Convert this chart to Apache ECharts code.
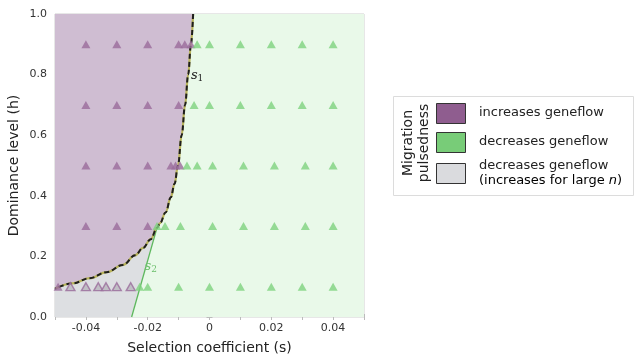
<!DOCTYPE html>
<html><head><meta charset="utf-8">
<script src="https://cdn.jsdelivr.net/npm/echarts@6/dist/echarts.min.js"></script>
<style>html,body{margin:0;padding:0;background:#fff}#c{width:635px;height:360px}</style>
</head><body><div id="c"></div>
<script>
// ---- data ----
const xTickLabels = [-0.04, -0.02, 0, 0.02, 0.04];
const yTickLabels = [0.0, 0.2, 0.4, 0.6, 0.8, 1.0];
// rows of simulated points: dominance level h, selection coefficients s
const rowH = [0.9, 0.7, 0.5, 0.3, 0.1];
const purpleS = [
  [-0.04, -0.03, -0.02, -0.01, -0.008, -0.006],
  [-0.04, -0.03, -0.02, -0.01],
  [-0.04, -0.03, -0.02, -0.0125, -0.011, -0.0095],
  [-0.04, -0.03, -0.02],
  [-0.049]
];
const greenS = [
  [-0.004, 0, 0.01, 0.02, 0.03, 0.04],
  [-0.005, 0, 0.01, 0.02, 0.03, 0.04],
  [-0.0073, -0.004, 0.001, 0.011, 0.021, 0.031, 0.04],
  [-0.017, -0.0144, -0.0094, 0.001, 0.011, 0.021, 0.031, 0.04],
  [-0.0226, -0.02, -0.01, 0, 0.01, 0.02, 0.03, 0.04]
];
const greyS = [[], [], [], [], [-0.045, -0.04, -0.036, -0.0335, -0.03, -0.0255]];
// boundary s1 (s, h), from top to left edge
const s1Curve = [
  [-0.0053, 1.0], [-0.0060, 0.9], [-0.0069, 0.8], [-0.0079, 0.7], [-0.0090, 0.6],
  [-0.0102, 0.5], [-0.0113, 0.44], [-0.0125, 0.395], [-0.0142, 0.345], [-0.0160, 0.31],
  [-0.0170, 0.294], [-0.0190, 0.257], [-0.0215, 0.228], [-0.0240, 0.204], [-0.0280, 0.172],
  [-0.0333, 0.148], [-0.0388, 0.128], [-0.0443, 0.111], [-0.0500, 0.093]
];
// boundary s2 (s, h)
const s2Line = [[-0.0170, 0.294], [-0.0252, 0.0]];
const s1LabelPos = [-0.0040, 0.795];
const s2LabelPos = [-0.0190, 0.165];
const xRange = [-0.05, 0.05];
const yRange = [0, 1];

// ---- build ----
function pts(sets, rows) {
  const out = [];
  sets.forEach((arr, i) => arr.forEach(s => out.push([s, rows[i]])));
  return out;
}
const purplePts = pts(purpleS, rowH);
const greenPts = pts(greenS, rowH);
const greyPts = pts(greyS, rowH);

const bgPoly = [[xRange[0], yRange[0]], [xRange[1], yRange[0]], [xRange[1], yRange[1]], [xRange[0], yRange[1]]];
const purplePoly = s1Curve.concat([[xRange[0], yRange[1]]]);
const s1Junction = s2Line[0];
const jIdx = s1Curve.findIndex(p => p[0] === s1Junction[0] && p[1] === s1Junction[1]);
const greyPoly = [[xRange[0], yRange[0]]]
  .concat(s1Curve.slice(jIdx).reverse())
  .concat([s2Line[1]]);

function polySeries(poly, color, z) {
  return {
    type: 'custom', z: z, silent: true, clip: true,
    data: [0],
    renderItem: function (params, api) {
      return { type: 'polygon', shape: { points: poly.map(p => api.coord(p)), smooth: 0 },
               style: { fill: color } };
    }
  };
}

const chart = echarts.init(document.getElementById('c'));
const tickFmt = v => {
  const m = xTickLabels.find(t => Math.abs(t - v) < 1e-9);
  return m === undefined ? '' : String(m);
};
const axisTxt = { fontFamily: 'DejaVu Sans', fontSize: 11, color: '#333' };
chart.setOption({
  animation: false,
  grid: { left: 55, right: 271, top: 14, bottom: 40, show: true, borderColor: '#cfcfcf', borderWidth: 1 },
  xAxis: [{
    type: 'value', min: xRange[0], max: xRange[1], interval: 0.01,
    axisLine: { show: false }, splitLine: { show: false },
    axisTick: { show: true, inside: true, length: 3, lineStyle: { color: '#bbb' } },
    axisLabel: Object.assign({ formatter: tickFmt, margin: 6, showMinLabel: true, showMaxLabel: true }, axisTxt),
    name: 'Selection coefficient (s)', nameLocation: 'middle', nameGap: 24,
    nameTextStyle: { fontFamily: 'DejaVu Sans', fontSize: 14, color: '#222' }
  }, {
    type: 'value', position: 'top', min: xRange[0], max: xRange[1], interval: 0.01,
    axisLine: { show: false }, splitLine: { show: false }, axisLabel: { show: false },
    axisTick: { show: true, inside: true, length: 3, lineStyle: { color: '#bbb' } }
  }],
  yAxis: [{
    type: 'value', min: yRange[0], max: yRange[1], interval: 0.1,
    axisLine: { show: false }, splitLine: { show: false },
    axisTick: { show: true, inside: true, length: 3, lineStyle: { color: '#bbb' } },
    axisLabel: Object.assign({
      margin: 8,
      formatter: v => {
        const m = yTickLabels.find(t => Math.abs(t - v) < 1e-9);
        return m === undefined ? '' : m.toFixed(1);
      }
    }, axisTxt),
    name: 'Dominance level (h)', nameLocation: 'middle', nameGap: 34,
    nameTextStyle: { fontFamily: 'DejaVu Sans', fontSize: 14, color: '#222' }
  }, {
    type: 'value', position: 'right', min: yRange[0], max: yRange[1], interval: 0.1,
    axisLine: { show: false }, splitLine: { show: false }, axisLabel: { show: false },
    axisTick: { show: true, inside: true, length: 3, lineStyle: { color: '#bbb' } }
  }],
  series: [
    polySeries(bgPoly, '#e9f9e9', 1),
    polySeries(purplePoly, '#cfbdd2', 2),
    polySeries(greyPoly, '#dddfe2', 2),
    { type: 'line', data: s2Line, z: 3, symbol: 'none', silent: true,
      lineStyle: { color: '#5db85d', width: 1.3 } },
    { type: 'line', data: s1Curve, z: 3, symbol: 'none', smooth: 0.4, smoothMonotone: 'x', silent: true,
      lineStyle: { color: '#b8b35a', width: 2.2 } },
    { type: 'line', data: s1Curve, z: 4, symbol: 'none', smooth: 0.4, smoothMonotone: 'x', silent: true,
      lineStyle: { color: '#1e1e1e', width: 2, type: [5, 3] } },
    { type: 'scatter', data: purplePts, z: 5, symbol: 'triangle', symbolSize: [9, 8],
      itemStyle: { color: '#9a6b9b' } },
    { type: 'scatter', data: greyPts, z: 5, symbol: 'triangle', symbolSize: [9, 8],
      itemStyle: { color: '#b9b6be', borderColor: '#9a6b9b', borderWidth: 1.4 } },
    { type: 'scatter', data: greenPts, z: 5, symbol: 'triangle', symbolSize: [9, 8],
      itemStyle: { color: '#7ed27e' } },
    { type: 'scatter', data: [s1LabelPos, s2LabelPos], z: 6, symbol: 'circle', symbolSize: 2, silent: true,
      itemStyle: { color: 'rgba(0,0,0,0)' },
      label: { show: true, position: 'inside', opacity: 1,
        formatter: p => p.dataIndex === 0 ? '{i|s}{sub|1}' : '{g|s}{gsub|2}',
        rich: {
          i: { fontFamily: 'DejaVu Serif', fontStyle: 'italic', fontSize: 13, color: '#222' },
          sub: { fontFamily: 'DejaVu Serif', fontSize: 9, color: '#222', verticalAlign: 'bottom', padding: [6, 0, 0, 0] },
          g: { fontFamily: 'DejaVu Serif', fontStyle: 'italic', fontSize: 13, color: '#6cbf6c' },
          gsub: { fontFamily: 'DejaVu Serif', fontSize: 9, color: '#6cbf6c', verticalAlign: 'bottom', padding: [6, 0, 0, 0] }
        } } }
  ],
  graphic: [
    { type: 'rect', left: 393, top: 96, shape: { width: 240, height: 99 },
      style: { fill: '#fff', stroke: '#dcdcdc', lineWidth: 1 } },
    { type: 'text', x: 408, y: 143, rotation: Math.PI / 2, style: {
        text: 'Migration', font: '14px "DejaVu Sans"', fill: '#222', align: 'center', verticalAlign: 'middle' } },
    { type: 'text', x: 424, y: 143, rotation: Math.PI / 2, style: {
        text: 'pulsedness', font: '14px "DejaVu Sans"', fill: '#222', align: 'center', verticalAlign: 'middle' } },
    { type: 'rect', left: 436, top: 103, shape: { width: 29, height: 20 },
      style: { fill: '#8f5d8f', stroke: '#333', lineWidth: 1 } },
    { type: 'rect', left: 436, top: 132, shape: { width: 29, height: 20 },
      style: { fill: '#78cc78', stroke: '#333', lineWidth: 1 } },
    { type: 'rect', left: 436, top: 163, shape: { width: 29, height: 20 },
      style: { fill: '#dadbde', stroke: '#333', lineWidth: 1 } },
    { type: 'text', x: 479, y: 113, style: { text: 'increases geneflow',
        font: '13px "DejaVu Sans"', fill: '#222', verticalAlign: 'middle' } },
    { type: 'text', x: 479, y: 142, style: { text: 'decreases geneflow',
        font: '13px "DejaVu Sans"', fill: '#222', verticalAlign: 'middle' } },
    { type: 'text', x: 479, y: 166, style: { text: 'decreases geneflow',
        font: '13px "DejaVu Sans"', fill: '#222', verticalAlign: 'middle' } },
    { type: 'text', x: 479, y: 181, style: { text: '{a|(increases for large }{b|n}{a|)}',
        verticalAlign: 'middle',
        rich: { a: { fontFamily: 'DejaVu Sans', fontSize: 13, color: '#222' },
                b: { fontFamily: 'DejaVu Sans', fontStyle: 'italic', fontSize: 13, color: '#222' } } } }
  ]
});
</script></body></html>
